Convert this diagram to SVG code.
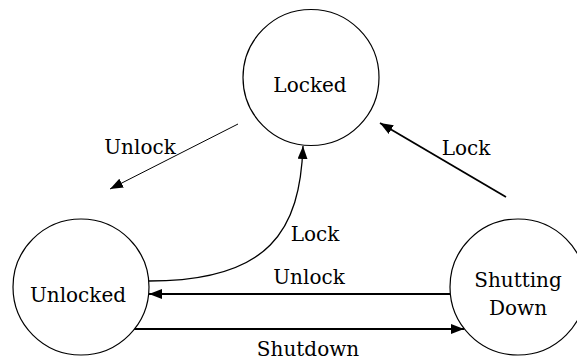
<svg xmlns="http://www.w3.org/2000/svg" width="577" height="360" viewBox="0 0 577 360">
<style>
.node{fill:#fff;stroke:#000;stroke-width:1.2}
.lbl{font-family:'DejaVu Serif',serif;font-size:20px;fill:#000;text-anchor:middle}
.edge{fill:none;stroke:#000}
</style>
<defs>
<marker id="ah" markerUnits="userSpaceOnUse" markerWidth="14" markerHeight="12" refX="13" refY="5" orient="auto">
<path d="M0,0 L13,5 L0,10 Z" fill="#000"/>
</marker>
</defs>
<rect width="577" height="360" fill="#fff"/>
<g id="connectors">
<path class="edge" d="M238,124 L110,189" stroke-width="1" marker-end="url(#ah)"/>
<path class="edge" d="M506,197 L380,123" stroke-width="1.8" marker-end="url(#ah)"/>
<path class="edge" d="M149,281 C270,281 300,230 303,146" stroke-width="1.3" marker-end="url(#ah)"/>
<path class="edge" d="M450,294 L149,294" stroke-width="2.2" marker-end="url(#ah)"/>
<path class="edge" d="M134,329 L464,329" stroke-width="2.2" marker-end="url(#ah)"/>
<text class="lbl" x="140" y="154">Unlock</text>
<text class="lbl" x="466" y="155">Lock</text>
<text class="lbl" x="315" y="241">Lock</text>
<text class="lbl" x="309" y="284">Unlock</text>
<text class="lbl" x="308" y="356">Shutdown</text>
</g>
<g id="locked">
<circle class="node" cx="311" cy="77.5" r="68"/>
<text class="lbl" x="310" y="92">Locked</text>
</g>
<g id="unlocked">
<circle class="node" cx="81" cy="287" r="68"/>
<text class="lbl" x="78" y="302">Unlocked</text>
</g>
<g id="shutting-down">
<circle class="node" cx="518" cy="287" r="68"/>
<text class="lbl" x="518" y="287">Shutting</text>
<text class="lbl" x="518" y="315">Down</text>
</g>
</svg>
